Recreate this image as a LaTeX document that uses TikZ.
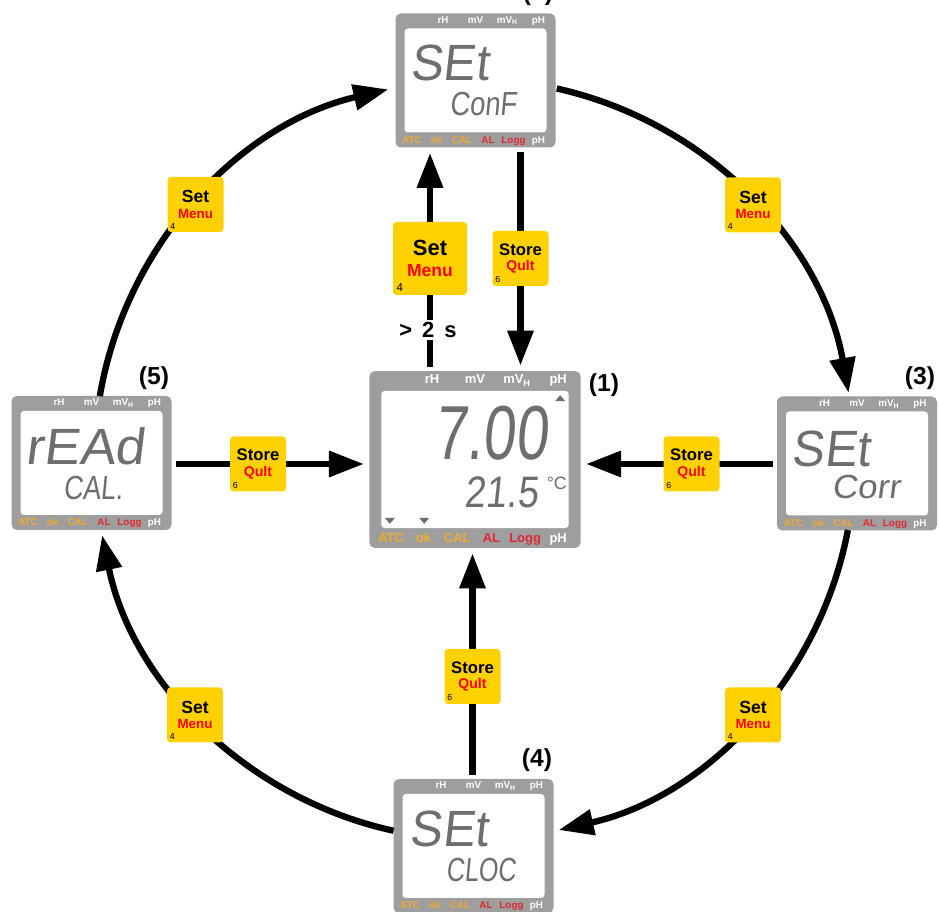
\documentclass[tikz,border=0pt]{standalone}
\usepackage{fontspec}
\setmainfont{Liberation Sans}
\newfontfamily\lcdfont[FakeSlant=0.12]{Liberation Sans}
\usepackage{graphicx}
\usetikzlibrary{arrows.meta,calc,backgrounds}

\definecolor{lcdgray}{RGB}{158,158,158}
\definecolor{lcdink}{RGB}{110,110,110}
\definecolor{lcdorange}{RGB}{240,170,50}
\definecolor{lcdred}{RGB}{225,40,50}
\definecolor{keyyellow}{RGB}{255,209,0}
\definecolor{keyred}{RGB}{255,0,0}

\tikzset{
  lcdframe/.style={fill=lcdgray, rounded corners=3pt, minimum width=3.2cm, minimum height=2.68cm, inner sep=0pt},
  lcdwindow/.style={fill=white, rounded corners=2pt, minimum width=2.84cm, minimum height=2.08cm, inner sep=0pt},
  modetop/.style={anchor=base, inner sep=0pt, text=white, font=\fontsize{5.6}{6}\selectfont\bfseries},
  segbig/.style={inner sep=0pt, text=lcdink, font=\lcdfont\fontsize{29}{29}\selectfont},
  segsmall/.style={inner sep=0pt, text=lcdink, font=\lcdfont\fontsize{19}{19}\selectfont},
  keycap/.style={fill=keyyellow, rounded corners=2pt, minimum width=1.12cm, minimum height=1.1cm,
    inner sep=0pt, align=center, font=\fontsize{8}{8.8}\selectfont},
  keybig/.style={keycap, minimum width=1.48cm, minimum height=1.46cm, font=\fontsize{10}{11.5}\selectfont},
  keynum/.style={anchor=south west, inner sep=1.7pt, font=\fontsize{5}{5}\selectfont},
  stepno/.style={font=\fontsize{14}{14}\selectfont\bfseries},
  flow/.style={line width=3.6pt, -{Triangle[length=0.7cm,width=0.5cm]}, shorten <=0.08cm, shorten >=0.1cm},
  ring/.style={line width=3.6pt, -{Triangle[length=0.7cm,width=0.5cm]}}
}

% key faces
\newcommand{\setmenu}[2]{{\fontsize{#1}{#1}\selectfont\bfseries Set}\\{\fontsize{#2}{#2}\selectfont\bfseries\color{keyred}Menu}}
\newcommand{\storequit}{{\fontsize{9.5}{9.5}\selectfont\bfseries Store}\\{\fontsize{8}{8}\selectfont\bfseries\color{keyred}Qult}}

% meter display: name, position, scale, readout
\newcommand{\lcdpanel}[4]{%
  \begin{scope}[shift={#2}, scale=#3, transform shape]
    \node[lcdframe] (#1) at (0,0) {};
    \node[lcdwindow] (#1w) at (0,0) {};
    \foreach \lx/\lt [count=\i] in {-0.65/rH, 0/mV, 0.64/{mV\textsubscript{H}}, 1.26/pH}
      \node[modetop] (#1t\i) at (\lx,1.145) {\lt};
    \foreach \lx/\lt/\lc [count=\i] in {-1.27/ATC/lcdorange, -0.78/ok/lcdorange, -0.27/CAL/lcdorange, 0.25/AL/lcdred, 0.76/Logg/lcdred, 1.26/pH/white}
      \node[modetop, text=\lc] (#1b\i) at (\lx,-1.255) {\lt};
    #4
  \end{scope}}

\begin{document}
\begin{tikzpicture}
    \useasboundingbox (0,0) rectangle (18.78,18.24);

    % Displays
    \lcdpanel{d1}{(9.50,9.05)}{1.32}{
        \node[segbig, font=\lcdfont\fontsize{33}{33}\selectfont] (d1a) at (0.24,0.40) {\scalebox{0.76}[1]{7.00}};
        \node[segsmall] (d1c) at (0.40,-0.50) {\scalebox{0.85}[1]{21.5}};
        \node[inner sep=0pt, text=lcdink, font=\fontsize{7.7}{8}\selectfont] (d1u) at (1.24,-0.36) {°C};
        \fill[lcdink] (1.215,0.885) -- (1.365,0.885) -- (1.29,0.975) -- cycle;
        \foreach \x in {-1.29,-0.77}
            \fill[lcdink] (\x-0.075,-0.885) -- (\x+0.075,-0.885) -- (\x,-0.975) -- cycle;
    }
    \lcdpanel{d2}{(9.51,16.63)}{1}{
        \node[segbig] (d2a) at (-0.52,0.36) {\scalebox{0.95}[1]{SEt}};
        \node[segsmall] (d2c) at (0.15,-0.47) {\scalebox{0.82}[1]{ConF}};
    }
    \lcdpanel{d3}{(17.14,8.97)}{1}{
        \node[segbig] (d3a) at (-0.52,0.3) {\scalebox{0.95}[1]{SEt}};
        \node[segsmall] (d3c) at (0.18,-0.47) {\scalebox{1.05}[1]{Corr}};
    }
    \lcdpanel{d4}{(9.47,1.32)}{1}{
        \node[segbig] (d4a) at (-0.49,0.34) {\scalebox{0.95}[1]{SEt}};
        \node[segsmall] (d4c) at (0.15,-0.48) {\scalebox{0.75}[1]{CLOC}};
    }
    \lcdpanel{d5}{(1.83,8.98)}{1}{
        \node[segbig] (d5a) at (-0.13,0.33) {\scalebox{1.05}[1]{rEAd}};
        \node[segsmall] (d5c) at (0.03,-0.5) {\scalebox{0.8}[1]{CAL.}};
    }

    % Step numbers
    \node[stepno] (n1) at (12.08,10.54) {(1)};
    \node[stepno] (n2) at (10.76,18.36) {(2)};
    \node[stepno] (n3) at (18.40,10.68) {(3)};
    \node[stepno] (n4) at (10.74,3.04) {(4)};
    \node[stepno] (n5) at (3.08,10.68) {(5)};

    % Ring of menu steps
    \coordinate (ring) at (9.49,9.05);
    \coordinate (r52) at ($(ring)+(170.4:7.6)$);
    \coordinate (r23) at ($(ring)+(77.5:7.6)$);
    \coordinate (r34) at ($(ring)+(-10.7:7.6)$);
    \coordinate (r45) at ($(ring)+(257.7:7.6)$);
    \draw[ring] (r52) arc[start angle=170.4, end angle=103.1, radius=7.6];
    \draw[ring] (r23) arc[start angle=77.5, end angle=10.1, radius=7.6];
    \draw[ring] (r34) arc[start angle=-10.7, end angle=-77.2, radius=7.6];
    \draw[ring] (r45) arc[start angle=257.7, end angle=191.5, radius=7.6];

    \node[keycap, label={[keynum]south west:4}] (k52) at (3.91,14.15) {\setmenu{10}{7.6}};
    \node[keycap, label={[keynum]south west:4}] (k23) at (15.06,14.14) {\setmenu{10}{7.6}};
    \node[keycap, label={[keynum]south west:4}] (k34) at (15.06,3.94) {\setmenu{10}{7.6}};
    \node[keycap, label={[keynum]south west:4}] (k45) at (3.90,3.94) {\setmenu{10}{7.6}};

    % Keys to and from the measuring display
    \node[keycap, label={[keynum]south west:6}] (sq2) at (10.41,13.07) {\storequit};
    \node[keycap, label={[keynum]south west:6}] (sq3) at (13.83,8.96) {\storequit};
    \node[keycap, label={[keynum]south west:6}] (sq4) at (9.45,4.71) {\storequit};
    \node[keycap, label={[keynum]south west:6}] (sq5) at (5.16,8.96) {\storequit};
    \node[keybig, label={[keynum, inner sep=2pt, font=\fontsize{6.5}{6.5}\selectfont]south west:4}] (kbig) at (8.60,13.07) {\setmenu{12.5}{10}};

    \begin{scope}[on background layer]
        \draw[flow] (d2.south -| sq2) -- (d1.north -| sq2);
        \draw[flow] (d1.north -| kbig) -- (d2.south -| kbig);
        \draw[flow] (d5.east |- sq5) -- (d1.west |- sq5);
        \draw[flow] (d3.west |- sq3) -- (d1.east |- sq3);
        \draw[flow] (d4.north -| sq4) -- (d1.south -| sq4);
    \end{scope}

    \node[fill=white, inner sep=1pt, font=\fontsize{12.5}{12.5}\selectfont\bfseries] (wait) at (8.56,11.64) {>\hspace{0.45em}2\hspace{0.45em}s};
\end{tikzpicture}
\end{document}
